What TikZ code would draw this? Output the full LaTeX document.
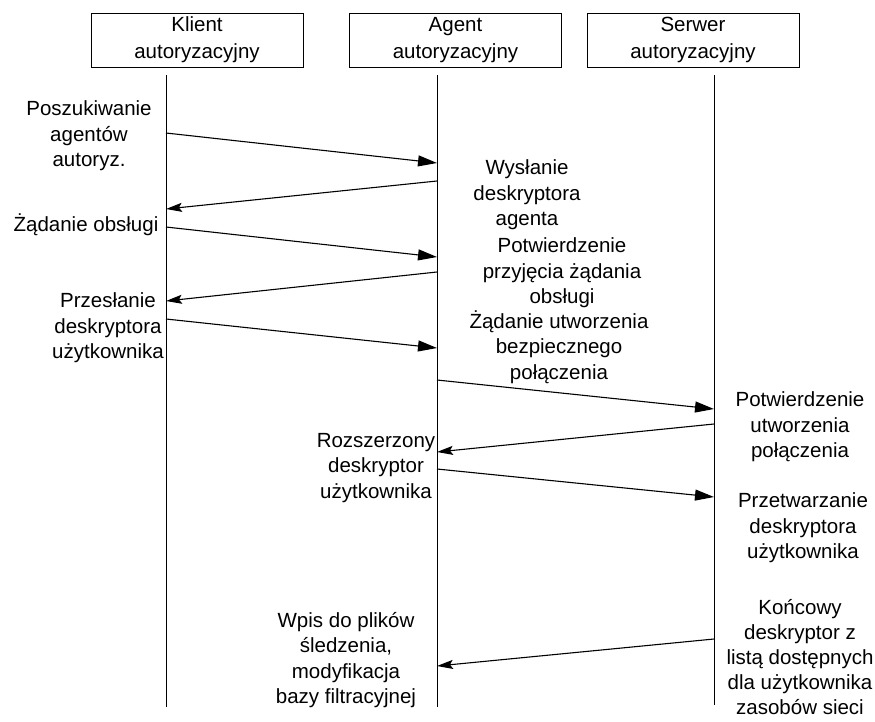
\documentclass[tikz,border=0pt]{standalone}
\usepackage{fontspec}
\setmainfont{Liberation Sans}
\usetikzlibrary{arrows.meta}
\begin{document}
\begin{tikzpicture}[x=1pt,y=-1pt,
  lbl/.style={font=\fontsize{20.5}{25.5}\selectfont, align=center, inner sep=0pt},
  actor/.style={draw, line width=0.9pt, minimum width=212pt, minimum height=54pt, inner sep=0pt,
                font=\fontsize{20.5}{27}\selectfont, align=center},
  life/.style={line width=0.9pt},
  msgr/.style={line width=1.1pt, -{Triangle[length=19pt,width=11pt]}},
  msgl/.style={line width=1.1pt, -{Stealth[length=16pt,width=9pt,inset=3pt]}}]
\fill[white] (0,0) rectangle (875,721);
\useasboundingbox (0,0) rectangle (875,721);
% actors
\node[actor] (K) at (197,40) {Klient\\autoryzacyjny};
\node[actor] (A) at (455.5,40) {Agent\\autoryzacyjny};
\node[actor] (S) at (693,40) {Serwer\\autoryzacyjny};
% lifelines
\coordinate (Kt) at (166,75);  \coordinate (Kb) at (166,707);
\coordinate (At) at (437,75);  \coordinate (Ab) at (437,707);
\coordinate (St) at (714,75);  \coordinate (Sb) at (714,705);
\draw[life] (Kt) -- (Kb);
\draw[life] (At) -- (Ab);
\draw[life] (St) -- (Sb);
% message end points
\coordinate (k1) at (166,133); \coordinate (a1) at (437,163);
\coordinate (a2) at (437,181); \coordinate (k2) at (166,209);
\coordinate (k3) at (166,227); \coordinate (a3) at (437,257);
\coordinate (a4) at (437,272); \coordinate (k4) at (166,301);
\coordinate (k5) at (166,319); \coordinate (a5) at (437,348);
\coordinate (a6) at (437,380); \coordinate (s6) at (714,409);
\coordinate (s7) at (714,424); \coordinate (a7) at (437,452);
\coordinate (a8) at (437,469); \coordinate (s8) at (714,497);
\coordinate (s9) at (714,639); \coordinate (a9) at (437,666);
\draw[msgr] (k1) -- (a1);
\draw[msgl] (a2) -- (k2);
\draw[msgr] (k3) -- (a3);
\draw[msgl] (a4) -- (k4);
\draw[msgr] (k5) -- (a5);
\draw[msgr] (a6) -- (s6);
\draw[msgl] (s7) -- (a7);
\draw[msgr] (a8) -- (s8);
\draw[msgl] (s9) -- (a9);
% labels
\node[lbl] (l1) at (89,136) {Poszukiwanie\\agentów\\autoryz.};
\node[lbl] (l2) at (527,195) {Wysłanie\\deskryptora\\agenta};
\node[lbl] (l3) at (86,225) {Żądanie obsługi};
\node[lbl] (l4) at (562,273) {Potwierdzenie\\przyjęcia żądania\\obsługi};
\node[lbl] (l5) at (108,328) {Przesłanie\\deskryptora\\użytkownika};
\node[lbl] (l6) at (559,347) {Żądanie utworzenia\\bezpiecznego\\połączenia};
\node[lbl] (l7) at (800,427) {Potwierdzenie\\utworzenia\\połączenia};
\node[lbl] (l8) at (376,468) {Rozszerzony\\deskryptor\\użytkownika};
\node[lbl] (l9) at (803,528) {Przetwarzanie\\deskryptora\\użytkownika};
\node[lbl] (l10) at (346,660) {Wpis do plików\\śledzenia,\\modyfikacja\\bazy filtracyjnej};
\node[lbl, font=\fontsize{20.5}{25}\selectfont] (l11) at (800,657) {Końcowy\\deskryptor z\\listą dostępnych\\dla użytkownika\\zasobów sieci};
\end{tikzpicture}
\end{document}
